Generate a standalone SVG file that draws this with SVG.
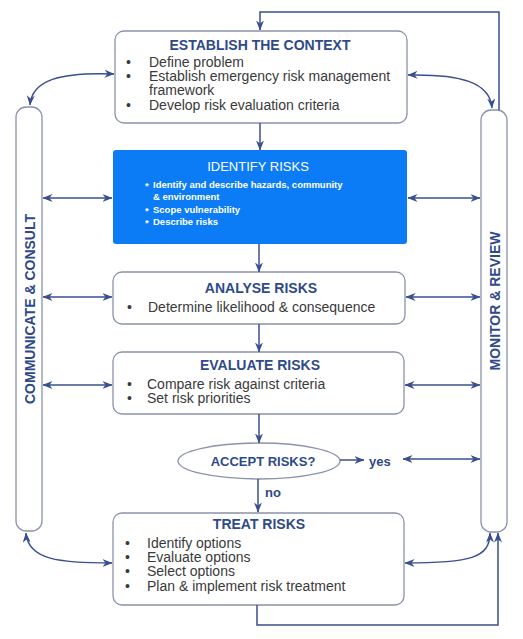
<svg xmlns="http://www.w3.org/2000/svg" width="523" height="639" viewBox="0 0 523 639">
<defs>
<marker id="ah" viewBox="0 0 10 8" refX="9.5" refY="4" markerWidth="10" markerHeight="8" markerUnits="userSpaceOnUse" orient="auto-start-reverse">
<path d="M0,0 L10,4 L0,8 L3,4 z" fill="#3a4f8f"/>
</marker>
</defs>
<style>
.box{fill:#ffffff;stroke:#8a93ab;stroke-width:1.3}
.bar{fill:#ffffff;stroke:#8a93ab;stroke-width:1.3}
.title{font-family:"Liberation Sans",Arial,sans-serif;font-weight:bold;font-size:14px;fill:#2f4a8a;text-anchor:middle}
.body{font-family:"Liberation Sans",Arial,sans-serif;font-size:14px;fill:#3a3a3a}
.side{font-family:"Liberation Sans",Arial,sans-serif;font-weight:bold;font-size:14px;fill:#2f4a8a;text-anchor:middle}
.wt{font-family:"Liberation Sans",Arial,sans-serif;font-size:13px;fill:#ffffff;text-anchor:middle}
.wb{font-family:"Liberation Sans",Arial,sans-serif;font-weight:bold;font-size:9.5px;fill:#ffffff}
.lab{font-family:"Liberation Sans",Arial,sans-serif;font-weight:bold;font-size:13px;fill:#2f4a8a}
.c{fill:none;stroke:#3a4f8f;stroke-width:1.5}
.ca{fill:none;stroke:#3a4f8f;stroke-width:1.5;marker-end:url(#ah)}
.cd{fill:none;stroke:#3a4f8f;stroke-width:1.5;marker-start:url(#ah);marker-end:url(#ah)}
</style>
<rect width="523" height="639" fill="#ffffff"/>

<g id="communicate">
<rect class="bar" x="16" y="107" width="26" height="424" rx="10"/>
<text class="side" transform="translate(34.5,309) rotate(-90)">COMMUNICATE &amp; CONSULT</text>
</g>

<g id="monitor">
<rect class="bar" x="481" y="110" width="26" height="422" rx="10"/>
<text class="side" transform="translate(500,301) rotate(-90)">MONITOR &amp; REVIEW</text>
</g>

<g id="establish">
<rect class="box" x="115" y="31" width="292" height="92" rx="9"/>
<text class="title" x="260" y="50">ESTABLISH THE CONTEXT</text>
<text class="body" x="126" y="67">•</text><text class="body" x="149" y="67">Define problem</text>
<text class="body" x="126" y="81">•</text><text class="body" x="149" y="81">Establish emergency risk management</text>
<text class="body" x="149" y="95">framework</text>
<text class="body" x="126" y="110">•</text><text class="body" x="149" y="110">Develop risk evaluation criteria</text>
</g>

<g id="identify">
<rect x="113" y="150" width="294" height="94" rx="3" fill="#0b7cf5"/>
<text class="wt" x="258" y="171">IDENTIFY RISKS</text>
<text class="wb" x="145" y="189">*</text><text class="wb" x="153" y="188">Identify and describe hazards, community</text>
<text class="wb" x="153" y="200">&amp; environment</text>
<text class="wb" x="145" y="214">*</text><text class="wb" x="153" y="213">Scope vulnerability</text>
<text class="wb" x="145" y="226">*</text><text class="wb" x="153" y="225">Describe risks</text>
</g>

<g id="analyse">
<rect class="box" x="113" y="272" width="292" height="52" rx="9"/>
<text class="title" x="261" y="293">ANALYSE RISKS</text>
<text class="body" x="127" y="312">•</text><text class="body" x="148" y="312">Determine likelihood &amp; consequence</text>
</g>

<g id="evaluate">
<rect class="box" x="113" y="352" width="291" height="62" rx="9"/>
<text class="title" x="260" y="370">EVALUATE RISKS</text>
<text class="body" x="127" y="389">•</text><text class="body" x="147" y="389">Compare risk against criteria</text>
<text class="body" x="127" y="403">•</text><text class="body" x="147" y="403">Set risk priorities</text>
</g>

<g id="accept">
<ellipse cx="259" cy="461" rx="81" ry="18" fill="#ffffff" stroke="#8a93ab" stroke-width="1.3"/>
<text class="lab" x="263" y="466" text-anchor="middle">ACCEPT RISKS?</text>
</g>

<g id="treat">
<rect class="box" x="113" y="513" width="291" height="92" rx="9"/>
<text class="title" x="259" y="529">TREAT RISKS</text>
<text class="body" x="125" y="548">•</text><text class="body" x="147" y="548">Identify options</text>
<text class="body" x="125" y="562">•</text><text class="body" x="147" y="562">Evaluate options</text>
<text class="body" x="125" y="576">•</text><text class="body" x="147" y="576">Select options</text>
<text class="body" x="125" y="591">•</text><text class="body" x="147" y="591">Plan &amp; implement risk treatment</text>
</g>

<g id="connectors">
<path class="ca" d="M260,123 V150"/>
<path class="ca" d="M259,244 V272"/>
<path class="ca" d="M259,324 V352"/>
<path class="ca" d="M259,414 V443"/>
<path class="ca" d="M258,479 V512"/>
<text class="lab" x="265" y="497">no</text>
<path class="ca" d="M340,460 H364"/>
<text class="lab" x="369" y="466">yes</text>
<path class="cd" d="M403,459 H480"/>
<path class="cd" d="M43,198 H112"/>
<path class="cd" d="M43,297 H112"/>
<path class="cd" d="M43,385 H112"/>
<path class="cd" d="M408,198 H480"/>
<path class="cd" d="M406,297 H480"/>
<path class="cd" d="M405,385 H480"/>
<path class="cd" d="M114,74 C60,72 32,80 30,105"/>
<path class="cd" d="M408,75 C460,74 490,82 492,108"/>
<path class="cd" d="M26,533 C28,560 60,563 112,563"/>
<path class="cd" d="M405,563 C470,563 490,558 490,533"/>
<path class="ca" d="M257,605 V625 H498 V533"/>
<path class="ca" d="M499,110 V12 H260 V30"/>
</g>
</svg>
